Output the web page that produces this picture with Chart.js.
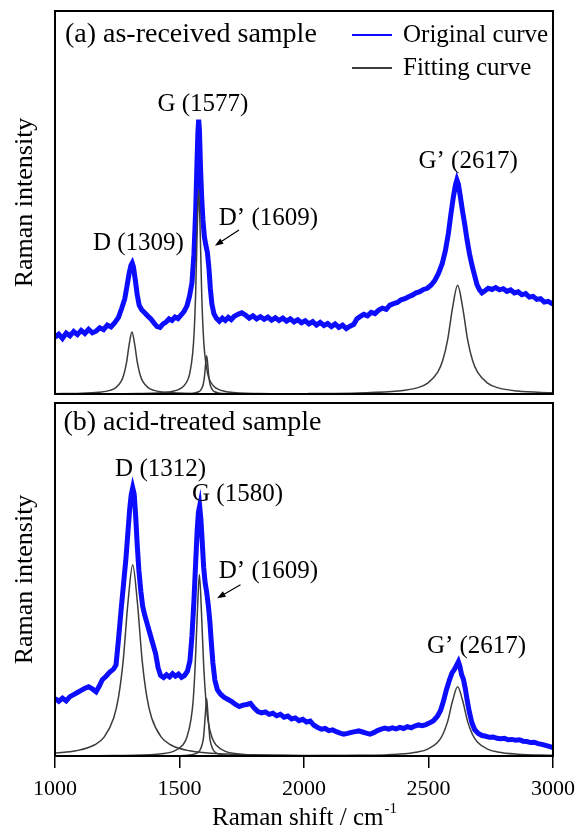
<!DOCTYPE html>
<html>
<head>
<meta charset="utf-8">
<script src="https://cdn.jsdelivr.net/npm/chart.js@4.4.1/dist/chart.umd.min.js"></script>
<style>
  html, body { margin: 0; padding: 0; background: #fff; }
  #wrap { position: relative; width: 582px; height: 836px; }
  canvas { position: absolute; left: 0; }
  #chartA { top: 0; }
  #chartB { top: 400px; }
</style>
</head>
<body>
<div id="wrap">
  <canvas id="chartA" width="582" height="400"></canvas>
  <canvas id="chartB" width="582" height="436"></canvas>
</div>
<script>
// ---------- data (Raman shift cm-1, relative intensity %) ----------
const xTicks = [1000, 1500, 2000, 2500, 3000];

// (a) as-received sample, measured spectrum
const aOriginal = [
  [1000,14.8],[1015,15.6],[1030,14.5],[1045,15.9],[1060,15.2],[1075,16.3],[1090,15.5],[1105,16.6],
  [1120,15.8],[1135,16.9],[1150,16.0],[1165,16.4],[1180,17.3],[1195,16.8],[1210,18.0],[1225,17.5],
  [1240,18.6],[1255,20.0],[1268,22.4],[1280,24.8],[1290,28.5],[1298,31.6],[1305,33.6],[1310,34.2],
  [1315,33.2],[1322,30.0],[1330,26.0],[1338,23.2],[1348,22.0],[1360,21.2],[1372,20.4],[1385,19.6],
  [1398,18.5],[1410,17.6],[1422,17.4],[1434,18.3],[1446,18.8],[1458,19.6],[1470,19.2],[1482,20.1],
  [1494,19.7],[1506,20.6],[1518,21.5],[1530,23.0],[1540,25.5],[1550,29.0],[1558,36.5],[1565,48.0],
  [1570,60.0],[1574,68.5],[1577,71.6],[1580,69.0],[1584,60.0],[1589,51.5],[1594,45.5],[1600,41.0],
  [1606,38.8],[1612,37.0],[1618,33.0],[1624,27.5],[1630,23.5],[1638,21.0],[1648,19.8],[1660,19.0],
  [1672,19.8],[1684,19.2],[1696,20.0],[1708,19.4],[1720,20.3],[1735,20.8],[1750,21.2],[1765,20.6],
  [1780,19.8],[1795,20.4],[1810,19.6],[1825,20.2],[1840,19.5],[1855,20.1],[1870,19.3],[1885,19.9],
  [1900,19.2],[1915,19.8],[1930,19.0],[1945,19.6],[1960,18.8],[1975,19.4],[1990,18.6],[2005,19.1],
  [2020,18.3],[2035,18.9],[2050,18.0],[2065,18.7],[2080,17.9],[2095,18.4],[2110,17.6],[2125,18.3],
  [2140,17.4],[2155,18.0],[2170,17.1],[2185,17.7],[2200,18.2],[2212,19.6],[2225,20.2],[2240,20.8],
  [2255,20.4],[2270,21.3],[2285,21.0],[2300,21.9],[2315,22.4],[2330,22.1],[2345,23.2],[2360,23.6],
  [2375,23.9],[2390,24.6],[2405,24.9],[2420,25.4],[2435,25.8],[2450,26.4],[2465,26.7],[2480,27.3],
  [2495,27.6],[2510,28.4],[2525,29.6],[2540,31.5],[2555,34.0],[2568,37.5],[2580,42.0],[2590,47.0],
  [2600,51.5],[2608,54.5],[2614,55.9],[2620,54.8],[2628,51.5],[2636,48.0],[2645,44.5],[2655,40.2],
  [2665,36.5],[2675,33.5],[2685,31.0],[2695,28.5],[2705,27.2],[2715,26.4],[2728,27.0],[2740,27.6],
  [2755,27.3],[2770,27.8],[2785,27.2],[2800,27.5],[2815,26.8],[2830,27.2],[2845,26.4],[2860,26.7],
  [2875,25.9],[2890,26.2],[2905,25.3],[2920,25.5],[2935,24.7],[2950,24.9],[2965,24.0],[2980,24.2],
  [3000,23.5]
];
// (a) fitted peaks
const aFitD = [[1000,0.08],[1089,0.16],[1177,0.44],[1221,0.95],[1243,1.62],[1265,3.24],[1276,4.98],[1287,8.1],[1298,12.96],[1309,16.2],[1320,12.96],[1331,8.1],[1342,4.98],[1353,3.24],[1375,1.62],[1397,0.95],[1441,0.44],[1529,0.16],[1700,0.05]];
const aFitG = [[1077,0.03],[1337,0.13],[1457,0.53],[1505,1.44],[1529,3.14],[1541,5.33],[1553,10.66],[1559,16.4],[1565,26.65],[1571,42.6],[1577,53.3],[1583,42.6],[1589,26.65],[1595,16.4],[1601,10.66],[1613,5.33],[1625,3.14],[1649,1.44],[1697,0.53],[1817,0.13],[2077,0.03]];
const aFitDp = [[1409,0.016],[1529,0.1],[1561,0.27],[1577,0.59],[1585,1.0],[1593,2.0],[1597,3.08],[1601,5.0],[1605,8.0],[1609,10.0],[1613,8.0],[1617,5.0],[1621,3.08],[1625,2.0],[1633,1.0],[1641,0.59],[1657,0.27],[1689,0.1],[1809,0.016]];
const aFitGp = [[2017,0.125],[2217,0.28],[2377,0.77],[2457,1.67],[2497,2.84],[2537,5.68],[2557,8.74],[2577,14.2],[2597,22.7],[2617,28.4],[2637,22.7],[2657,14.2],[2677,8.74],[2697,5.68],[2737,2.84],[2777,1.67],[2857,0.77],[3000,0.31]];

// (b) acid-treated sample, measured spectrum
const bOriginal = [
  [1000,16.3],[1015,15.5],[1030,16.4],[1045,15.6],[1060,16.8],[1075,17.4],[1090,18.0],[1105,18.6],
  [1120,19.2],[1135,19.6],[1150,19.0],[1165,18.2],[1178,19.8],[1190,21.6],[1205,22.6],[1220,23.8],
  [1235,24.6],[1245,25.8],[1255,33.0],[1265,41.0],[1275,48.5],[1285,56.0],[1293,63.5],[1300,70.0],
  [1306,74.0],[1312,76.0],[1318,74.2],[1324,68.0],[1330,60.0],[1337,52.5],[1345,46.5],[1352,42.5],
  [1360,40.0],[1370,37.5],[1380,35.0],[1392,32.0],[1404,29.0],[1414,25.0],[1424,22.8],[1436,22.2],
  [1448,23.0],[1460,22.4],[1472,23.3],[1484,22.6],[1496,23.2],[1508,22.3],[1520,22.8],[1532,24.0],
  [1542,27.0],[1550,34.0],[1558,44.0],[1565,55.0],[1571,64.0],[1576,69.0],[1581,70.8],[1586,67.0],
  [1591,61.0],[1597,53.5],[1603,49.0],[1609,46.5],[1616,42.5],[1622,38.0],[1628,32.0],[1634,26.5],
  [1642,21.5],[1652,18.8],[1665,17.5],[1680,16.6],[1695,16.0],[1710,15.4],[1725,14.6],[1740,14.0],
  [1755,14.4],[1770,14.6],[1785,14.9],[1800,13.6],[1815,12.6],[1830,12.2],[1845,12.5],[1860,11.8],
  [1875,12.1],[1890,11.4],[1905,11.8],[1920,11.0],[1935,11.3],[1950,10.5],[1965,10.8],[1980,10.0],
  [1995,10.4],[2010,9.6],[2025,9.9],[2040,8.7],[2055,8.1],[2070,7.6],[2085,7.8],[2100,7.2],
  [2115,7.4],[2130,6.9],[2145,6.5],[2160,6.2],[2175,6.4],[2190,6.7],[2205,6.9],[2220,7.1],
  [2235,6.8],[2250,6.5],[2265,6.2],[2280,6.6],[2295,7.2],[2310,7.6],[2325,7.9],[2340,7.6],
  [2355,8.0],[2370,7.7],[2385,8.1],[2400,7.8],[2415,8.3],[2430,8.0],[2445,8.5],[2460,8.8],
  [2475,8.6],[2490,8.9],[2505,9.4],[2520,10.0],[2535,11.2],[2548,12.8],[2560,15.5],[2572,18.8],
  [2584,21.5],[2594,23.5],[2604,24.5],[2612,25.6],[2620,26.7],[2626,25.4],[2633,23.0],[2640,21.8],
  [2648,19.0],[2656,15.5],[2664,12.5],[2674,9.5],[2685,7.5],[2700,6.4],[2715,5.8],[2730,5.6],
  [2745,5.3],[2760,5.4],[2775,5.0],[2790,4.9],[2805,5.0],[2820,4.6],[2835,4.7],[2850,4.5],
  [2865,4.6],[2880,4.2],[2895,4.1],[2910,3.8],[2925,3.9],[2940,3.5],[2955,3.3],[2970,3.0],
  [2985,2.7],[3000,2.4]
];
// (b) fitted peaks
const bFitD = [[1000,0.8],[1084,1.47],[1160,3.19],[1198,5.42],[1236,10.84],[1255,16.7],[1274,27.1],[1293,43.4],[1312,54.2],[1331,43.4],[1350,27.1],[1369,16.7],[1388,10.84],[1426,5.42],[1464,3.19],[1540,1.47],[1692,0.54],[2000,0.17],[2500,0.055]];
const bFitG = [[1100,0.065],[1240,0.13],[1410,0.51],[1478,1.39],[1512,3.02],[1529,5.14],[1546,10.28],[1555,15.8],[1563,25.7],[1572,41.1],[1580,51.4],[1588,41.1],[1597,25.7],[1606,15.8],[1614,10.28],[1631,5.14],[1648,3.02],[1682,1.39],[1750,0.51],[1920,0.13],[2100,0.055]];
const bFitDp = [[1409,0.033],[1519,0.16],[1555,0.44],[1573,0.96],[1582,1.63],[1591,3.26],[1596,5.0],[1600,8.15],[1605,13.0],[1609,16.3],[1613,13.0],[1618,8.15],[1622,5.0],[1627,3.26],[1636,1.63],[1645,0.96],[1663,0.44],[1699,0.16],[1809,0.033]];
const bFitGp = [[2017,0.087],[2217,0.19],[2377,0.53],[2457,1.15],[2497,1.96],[2537,3.92],[2557,6.03],[2577,9.8],[2597,15.7],[2617,19.6],[2637,15.7],[2657,9.8],[2677,6.03],[2697,3.92],[2737,1.96],[2777,1.15],[2857,0.53],[3000,0.21]];

// peak labels (placed in data units)
const aNotes = [
  { text: '(a) as-received sample', x: 1040, y: 93.7, align: 'left', size: 28 },
  { text: 'G (1577)', x: 1594, y: 75.7 },
  { text: 'D (1309)', x: 1335, y: 39.2 },
  { text: 'D\u2019 (1609)', x: 1857, y: 45.9 },
  { text: 'G\u2019 (2617)', x: 2659, y: 60.8 }
];
const aArrow = [1739, 42.8, 1642, 38.7];
const bNotes = [
  { text: '(b) acid-treated sample', x: 1034, y: 94.5, align: 'left', size: 28 },
  { text: 'D (1312)', x: 1424, y: 81.2 },
  { text: 'G (1580)', x: 1733, y: 74.1 },
  { text: 'D\u2019 (1609)', x: 1857, y: 52.3 },
  { text: 'G\u2019 (2617)', x: 2693, y: 31 }
];
const bArrow = [1745, 48.5, 1651, 44.7];

// ---------- styles ----------
const SERIF = '"Liberation Serif", "Times New Roman", serif';
const BLUE = '#0c0cff';
const GREY = '#3c3c3c';
Chart.defaults.font.family = SERIF;
Chart.defaults.color = '#000';

const toXY = arr => arr.map(p => ({ x: p[0], y: p[1] }));

function fitSet(arr) {
  return {
    data: toXY(arr),
    borderColor: GREY,
    borderWidth: 1.5,
    pointRadius: 0,
    fill: false,
    cubicInterpolationMode: 'monotone'
  };
}

// labels, arrow, legend, frame
const decor = {
  id: 'decor',
  afterDatasetsDraw(chart, args, opts) {
    const ctx = chart.ctx;
    const xs = chart.scales.x, ys = chart.scales.y;
    const area = chart.chartArea;
    ctx.save();
    ctx.fillStyle = '#000';
    ctx.textBaseline = 'middle';
    opts.notes.forEach(n => {
      ctx.font = (n.size || 25) + 'px ' + SERIF;
      ctx.textAlign = n.align || 'center';
      ctx.fillText(n.text, xs.getPixelForValue(n.x), ys.getPixelForValue(n.y));
    });
    ctx.font = '25px ' + SERIF;

    // arrow
    const a = opts.arrow;
    const x1 = xs.getPixelForValue(a[0]), y1 = ys.getPixelForValue(a[1]);
    const x2 = xs.getPixelForValue(a[2]), y2 = ys.getPixelForValue(a[3]);
    const ang = Math.atan2(y2 - y1, x2 - x1);
    ctx.strokeStyle = '#000';
    ctx.lineWidth = 1.2;
    ctx.beginPath();
    ctx.moveTo(x1, y1);
    ctx.lineTo(x2 - 5 * Math.cos(ang), y2 - 5 * Math.sin(ang));
    ctx.stroke();
    ctx.beginPath();
    ctx.moveTo(x2, y2);
    ctx.lineTo(x2 - 9 * Math.cos(ang - 0.35), y2 - 9 * Math.sin(ang - 0.35));
    ctx.lineTo(x2 - 9 * Math.cos(ang + 0.35), y2 - 9 * Math.sin(ang + 0.35));
    ctx.closePath();
    ctx.fill();

    // legend
    if (opts.legend) {
      ctx.textAlign = 'left';
      opts.legend.forEach(l => {
        const ly = area.top + l.dy;
        ctx.strokeStyle = l.color;
        ctx.lineWidth = 2;
        ctx.beginPath();
        ctx.moveTo(area.left + 297, ly);
        ctx.lineTo(area.left + 337, ly);
        ctx.stroke();
        ctx.fillStyle = '#000';
        ctx.fillText(l.text, area.left + 348, ly);
      });
    }

    // frame
    ctx.strokeStyle = '#000';
    ctx.lineWidth = 2;
    ctx.strokeRect(area.left, area.top, area.right - area.left, area.bottom - area.top);

    // x axis title with superscript
    if (opts.xTitle) {
      const cx = (area.left + area.right) / 2;
      const ty = area.bottom + 62;
      ctx.font = '25px ' + SERIF;
      const w1 = ctx.measureText('Raman shift / cm').width;
      ctx.font = '15px ' + SERIF;
      const w2 = ctx.measureText('-1').width;
      const sx = cx - (w1 + w2) / 2;
      ctx.textAlign = 'left';
      ctx.font = '25px ' + SERIF;
      ctx.fillText('Raman shift / cm', sx, ty);
      ctx.font = '15px ' + SERIF;
      ctx.fillText('-1', sx + w1 + 1, ty - 9);
    }
    ctx.restore();
  }
};

function makePanel(id, original, fits, notes, arrow, opts) {
  const datasets = fits.map(fitSet);
  datasets.push({
    data: toXY(original),
    borderColor: BLUE,
    borderWidth: 5,
    pointRadius: 0,
    fill: false,
    tension: 0
  });

  return new Chart(document.getElementById(id), {
    type: 'line',
    data: { datasets },
    options: {
      responsive: false,
      animation: false,
      events: [],
      layout: { padding: opts.padding },
      plugins: {
        legend: { display: false },
        tooltip: { enabled: false },
        decor: { notes, arrow, legend: opts.legend, xTitle: opts.xTitle }
      },
      scales: {
        x: {
          type: 'linear',
          min: 1000,
          max: 3000,
          display: opts.showX,
          afterBuildTicks: axis => { axis.ticks = xTicks.map(v => ({ value: v })); },
          afterFit: axis => {
            if (opts.showX) axis.height = 80;
            axis.paddingLeft = 0;
            axis.paddingRight = 0;
          },
          border: { display: false },
          grid: {
            drawOnChartArea: false,
            drawTicks: true,
            tickLength: 12,
            color: '#000',
            lineWidth: 1.5
          },
          ticks: {
            color: '#000',
            padding: 8,
            maxRotation: 0,
            font: { size: 22, family: SERIF },
            callback: v => String(v)
          }
        },
        y: {
          min: 0,
          max: 100,
          afterFit: axis => { axis.width = 55; },
          border: { display: false },
          grid: { display: false },
          ticks: { display: false },
          title: {
            display: true,
            text: 'Raman intensity',
            color: '#000',
            padding: { top: 10, bottom: 0 },
            font: { size: 26, family: SERIF }
          }
        }
      }
    },
    plugins: [decor]
  });
}

makePanel('chartA', aOriginal, [aFitD, aFitG, aFitDp, aFitGp], aNotes, aArrow, {
  padding: { left: 0, right: 29, top: 11, bottom: 6 },
  showX: false,
  legend: [
    { text: 'Original curve', color: BLUE, dy: 24 },
    { text: 'Fitting curve', color: GREY, dy: 57 }
  ]
});

makePanel('chartB', bOriginal, [bFitD, bFitG, bFitDp, bFitGp], bNotes, bArrow, {
  padding: { left: 0, right: 29, top: 3, bottom: 0 },
  showX: true,
  xTitle: true
});
</script>
</body>
</html>
